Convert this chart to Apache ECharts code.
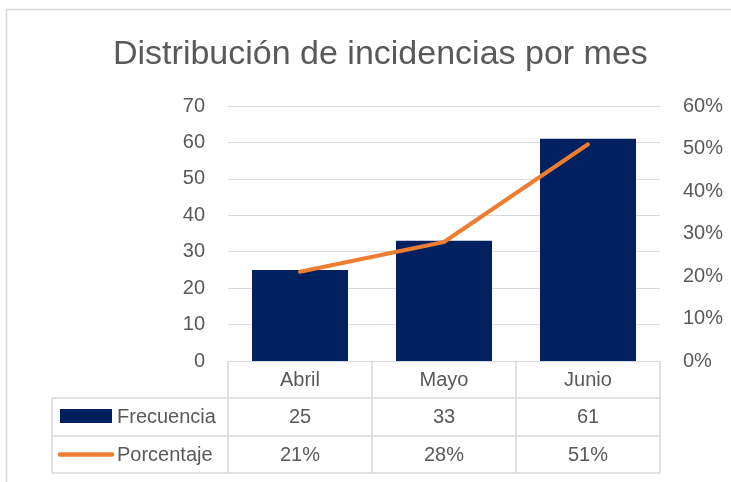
<!DOCTYPE html>
<html lang="es">
<head>
<meta charset="UTF-8">
<title>Distribución de incidencias por mes</title>
<script src="https://cdn.jsdelivr.net/npm/echarts@6/dist/echarts.min.js"></script>
<style>
  html, body { margin: 0; padding: 0; background: #fff; }
  #main { width: 731px; height: 482px; }
</style>
</head>
<body>
<div id="main"></div>
<script>
// datos
var meses = ['Abril', 'Mayo', 'Junio'];
var frecuencia = [25, 33, 61];
var porcentaje = [0.21, 0.28, 0.51];
var nombres = ['Frecuencia', 'Porcentaje'];

// ¿está la fuente estrecha? si no, usamos Liberation Sans normal
var ctx = document.createElement('canvas').getContext('2d');
ctx.font = '20px "Liberation Sans Narrow", monospace';
var wNarrow = ctx.measureText('Frecuencia Porcentaje').width;
ctx.font = '20px monospace';
var wMono = ctx.measureText('Frecuencia Porcentaje').width;
var hayNarrow = Math.abs(wNarrow - wMono) > 1;

var FONT = hayNarrow ? '"Liberation Sans Narrow", sans-serif' : 'Liberation Sans, Arial, sans-serif';
var FS = hayNarrow ? 24 : 20;
var FS_TITULO = hayNarrow ? 40 : 34;
var GRIS = '#595959';
var LINEA = '#d9d9d9';
var AZUL = '#002060';
var NARANJA = '#ED7D31';

function pct(v) { return Math.round(v * 100) + '%'; }

var chart = echarts.init(document.getElementById('main'));
var lbl = { fontFamily: FONT, fontSize: FS, color: GRIS };

var option = {
  animation: false,
  title: {
    text: 'Distribución de incidencias por mes',
    left: 108, top: hayNarrow ? 30 : 33,
    textStyle: { fontFamily: FONT, fontSize: FS_TITULO, fontWeight: 'normal', color: GRIS }
  },
  grid: { left: 228, right: 71, top: 106, bottom: 121 },
  xAxis: [
    {
      type: 'category', data: meses, position: 'bottom',
      axisLine: { lineStyle: { color: LINEA, width: 1 } },
      axisTick: { show: true, length: 112, interval: 0, lineStyle: { color: LINEA, width: 1.5 } },
      axisLabel: Object.assign({ margin: hayNarrow ? 7 : 9 }, lbl)
    },
    {
      type: 'category', data: frecuencia.map(String), position: 'bottom', offset: 37,
      axisLine: { show: false }, axisTick: { show: false },
      axisLabel: Object.assign({ margin: hayNarrow ? 7 : 9 }, lbl)
    },
    {
      type: 'category', data: porcentaje.map(pct), position: 'bottom', offset: 75,
      axisLine: { show: false }, axisTick: { show: false },
      axisLabel: Object.assign({ margin: hayNarrow ? 7 : 9 }, lbl)
    }
  ],
  yAxis: [
    {
      type: 'value', min: 0, max: 70, interval: 10,
      axisLine: { show: false }, axisTick: { show: false },
      splitLine: { lineStyle: { color: LINEA, width: 1 } },
      axisLabel: Object.assign({ margin: 23 }, lbl)
    },
    {
      type: 'value', min: 0, max: 0.6, interval: 0.1, position: 'right',
      axisLine: { show: false }, axisTick: { show: false },
      splitLine: { show: false },
      axisLabel: Object.assign({ margin: 23, formatter: pct }, lbl)
    }
  ],
  series: [
    {
      name: nombres[0], type: 'bar', data: frecuencia,
      barWidth: 96, itemStyle: { color: AZUL }
    },
    {
      name: nombres[1], type: 'line', yAxisIndex: 1, data: porcentaje,
      symbol: 'none', lineStyle: { color: NARANJA, width: 4, cap: 'round', join: 'round' }
    }
  ]
};
chart.setOption(option);

// tabla de datos: líneas de la columna de leyenda
var ls = { stroke: LINEA, lineWidth: 1.5 };
chart.setOption({
  graphic: [
    { type: 'rect', shape: { x: 6.5, y: 9.5, width: 760, height: 500 }, style: { fill: 'none', stroke: LINEA, lineWidth: 1.5 }, silent: true },
    { type: 'line', shape: { x1: 52, y1: 398, x2: 660, y2: 398 }, style: ls },
    { type: 'line', shape: { x1: 52, y1: 436, x2: 660, y2: 436 }, style: ls },
    { type: 'line', shape: { x1: 52, y1: 473, x2: 660, y2: 473 }, style: ls },
    { type: 'line', shape: { x1: 52, y1: 398, x2: 52, y2: 473 }, style: ls },
    { type: 'rect', shape: { x: 60, y: 409, width: 52, height: 14 }, style: { fill: AZUL } },
    { type: 'line', shape: { x1: 60, y1: 454.5, x2: 112, y2: 454.5 }, style: { stroke: NARANJA, lineWidth: 4.5, lineCap: 'round' } },
    { type: 'text', x: 117, y: 417, style: { text: nombres[0], fontFamily: FONT, fontSize: FS, fill: GRIS, verticalAlign: 'middle' } },
    { type: 'text', x: 117, y: 455, style: { text: nombres[1], fontFamily: FONT, fontSize: FS, fill: GRIS, verticalAlign: 'middle' } }
  ]
});
</script>
</body>
</html>
